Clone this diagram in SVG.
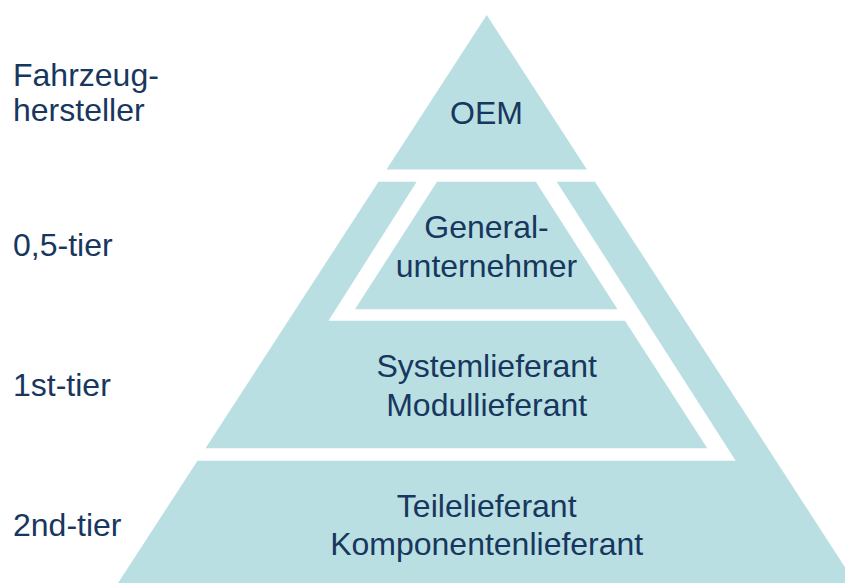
<svg xmlns="http://www.w3.org/2000/svg" width="845" height="583" viewBox="0 0 845 583">
<style>
.band{fill:#BADFE2;stroke:none}
.t{font-family:"Liberation Sans",Arial,sans-serif;font-size:32px;fill:#17375E}
.c{text-anchor:middle}
</style>
<rect width="845" height="583" fill="#FFFFFF"/>
<g id="oem">
<polygon class="band" points="486.7,15 586.9,169.5 386.5,169.5"/>
<text class="t c" x="486.5" y="124">OEM</text>
</g>
<g id="generalunternehmer">
<polygon class="band" points="437,181.7 535.8,181.7 617.5,309.3 355,309.3"/>
<text class="t c" x="486.5" y="238.3">General-</text>
<text class="t c" x="486.5" y="276.7">unternehmer</text>
</g>
<g id="systemlieferant">
<polygon class="band" points="378.5,181.7 416.7,181.7 328.5,320.7 625,320.7 707.3,448.3 205.5,448.3"/>
<text class="t c" x="486.7" y="377.3">Systemlieferant</text>
<text class="t c" x="486.7" y="416">Modullieferant</text>
</g>
<g id="teilelieferant">
<polygon class="band" points="556.7,181.7 594.9,181.7 855.3,583 118.1,583 197.5,460.7 735.7,460.7"/>
<text class="t c" x="486.7" y="517.3">Teilelieferant</text>
<text class="t c" x="486.7" y="555">Komponentenlieferant</text>
</g>
<g id="labels">
<text class="t" x="13" y="85.7">Fahrzeug-</text>
<text class="t" x="13" y="120.7">hersteller</text>
<text class="t" x="13" y="256">0,5-tier</text>
<text class="t" x="13" y="396">1st-tier</text>
<text class="t" x="13" y="536">2nd-tier</text>
</g>
<g id="connectors"></g>
</svg>
